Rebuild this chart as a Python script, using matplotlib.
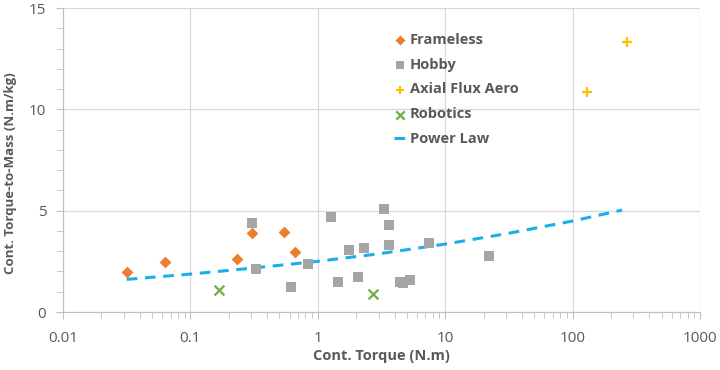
import matplotlib
matplotlib.use('Agg')
import matplotlib.pyplot as plt
from matplotlib.ticker import FixedLocator, FuncFormatter, MultipleLocator
import numpy as np

# data
frameless_x = [0.0316, 0.0632, 0.231, 0.303, 0.543, 0.659]
frameless_y = [1.99, 2.48, 2.61, 3.91, 3.96, 2.97]

hobby_x = [0.303, 0.327, 0.613, 0.842, 1.27, 1.45, 1.76, 2.08, 2.32,
           3.33, 3.62, 3.62, 4.42, 4.68, 5.28, 7.42, 22.1]
hobby_y = [4.41, 2.12, 1.25, 2.37, 4.70, 1.50, 3.08, 1.71, 3.17,
           5.07, 4.29, 3.31, 1.50, 1.45, 1.58, 3.39, 2.76]

aero_x = [130, 266]
aero_y = [10.87, 13.33]

robotics_x = [0.168, 2.70]
robotics_y = [1.09, 0.89]

powerlaw_x = [0.0316, 0.1, 0.3, 1, 3, 10, 30, 100, 245]
powerlaw_y = [1.61, 1.87, 2.16, 2.50, 2.87, 3.35, 3.86, 4.49, 5.03]

x_ticks = [0.01, 0.1, 1, 10, 100, 1000]
y_ticks = [0, 5, 10, 15]

label_color = '#595959'
plt.rcParams['font.family'] = ['Open Sans', 'DejaVu Sans']


def main():
    fig = plt.figure(figsize=(7.2, 3.7), dpi=100)
    ax = fig.add_axes([63 / 720, 58 / 370, 637 / 720, 304 / 370])

    ax.scatter(frameless_x, frameless_y, marker='D', s=36, color='#ED7D31',
               label='Frameless', zorder=3, linewidths=0)
    ax.scatter(hobby_x, hobby_y, marker='s', s=52, color='#A5A5A5',
               label='Hobby', zorder=3, linewidths=0)
    ax.scatter(aero_x, aero_y, marker='+', s=50, color='#FFC000',
               label='Axial Flux Aero', zorder=3, linewidths=1.6)
    ax.scatter(robotics_x, robotics_y, marker='x', s=50, color='#70AD47',
               label='Robotics', zorder=3, linewidths=1.6)
    ax.plot(powerlaw_x, powerlaw_y, linestyle=(0, (3.5, 2.5)), color='#1AAFE6',
            lw=2.2, label='Power Law', zorder=2)

    ax.set_xscale('log')
    ax.set_xlim(0.01, 1000)
    ax.set_ylim(0, 15)
    ax.xaxis.set_major_locator(FixedLocator(x_ticks))
    ax.xaxis.set_major_formatter(FuncFormatter(lambda v, p: '{:g}'.format(v)))
    ax.set_yticks(y_ticks)
    ax.yaxis.set_minor_locator(MultipleLocator(1))

    ax.grid(True, which='major', color='#D9D9D9', lw=0.9)
    ax.set_axisbelow(True)
    for side in ['top', 'right']:
        ax.spines[side].set_visible(False)
    for side in ['left', 'bottom']:
        ax.spines[side].set_color('#BFBFBF')
    ax.tick_params(which='both', colors='#BFBFBF', labelcolor=label_color,
                   labelsize=11)
    ax.tick_params(which='major', length=5)
    ax.tick_params(which='minor', length=4)
    ax.tick_params(axis='x', which='major', pad=9)
    ax.tick_params(axis='y', which='major', pad=7)

    ax.set_xlabel('Cont. Torque (N.m)', color=label_color, fontsize=10.5,
                  fontweight='bold', labelpad=2)
    ax.set_ylabel('Cont. Torque-to-Mass (N.m/kg)', color=label_color,
                  fontsize=9.5, fontweight='bold')
    ax.yaxis.set_label_coords(-0.072, 0.457)

    leg = ax.legend(loc='upper left', bbox_to_anchor=(0.508, 0.943), frameon=False,
                    fontsize=10.5, handlelength=0.8, handletextpad=0.3,
                    labelspacing=0.75, borderpad=0, markerscale=0.85)
    for t in leg.get_texts():
        t.set_color(label_color)
        t.set_fontweight('bold')

    fig.savefig('out.png', dpi=100)


if __name__ == '__main__':
    main()
